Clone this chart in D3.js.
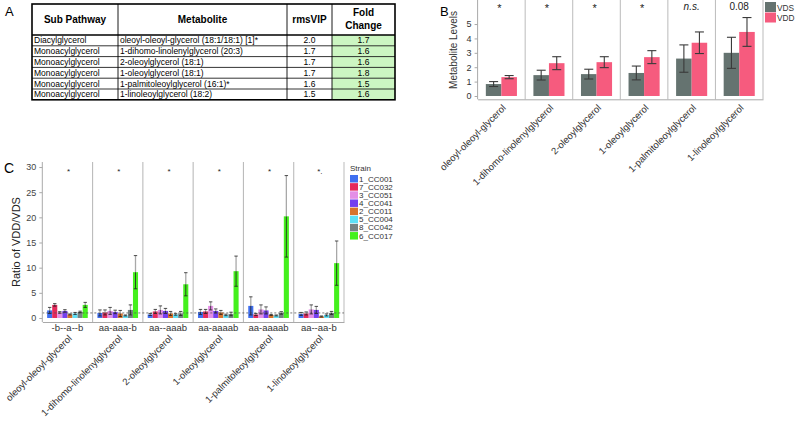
<!DOCTYPE html>
<html><head><meta charset="utf-8">
<script src="https://cdn.jsdelivr.net/npm/d3@7"></script>
<style>body{margin:0;background:#fff}svg{display:block;font-family:"Liberation Sans",Arial,sans-serif}</style>
</head><body><svg id="c" width="796" height="431"></svg>
<script>
// ---- Panel A table ----
const tableHeaders = ["Sub Pathway", "Metabolite", "rmsVIP", "Fold Change"];
const subPathways = ["Diacylglycerol", "Monoacylglycerol", "Monoacylglycerol", "Monoacylglycerol", "Monoacylglycerol", "Monoacylglycerol"];
const metaboliteNames = ["oleoyl-oleoyl-glycerol (18:1/18:1)  [1]*", "1-dihomo-linolenylglycerol (20:3)", "2-oleoylglycerol (18:1)", "1-oleoylglycerol (18:1)", "1-palmitoleoylglycerol (16:1)*", "1-linoleoylglycerol (18:2)"];
const rmsVIP = ["2.0", "1.7", "1.7", "1.7", "1.6", "1.5"];
const foldChange = ["1.7", "1.6", "1.6", "1.8", "1.5", "1.6"];

// ---- Panel B ----
const categories = ["oleoyl-oleoyl-glycerol", "1-dihomo-linolenylglycerol", "2-oleoylglycerol", "1-oleoylglycerol", "1-palmitoleoylglycerol", "1-linoleoylglycerol"];
const groups = ["VDS", "VDD"];
const vdsMean = [0.83, 1.45, 1.52, 1.6, 2.6, 3.0];
const vdsErr  = [0.17, 0.34, 0.34, 0.48, 0.95, 1.08];
const vddMean = [1.31, 2.28, 2.35, 2.7, 3.7, 4.45];
const vddErr  = [0.11, 0.45, 0.38, 0.45, 0.75, 1.0];
const bSignif = ["*", "*", "*", "*", "n.s.", "0.08"];
const bTicks = [0, 1, 2, 3, 4, 5];

// ---- Panel C ----
const strains = ["1_CC001", "7_CC032", "3_CC051", "4_CC041", "2_CC011", "5_CC004", "8_CC042", "6_CC017"];
const strainColors = ["#3f6ff0", "#e52a5c", "#e48ee6", "#7440f0", "#d8732c", "#5ee0f6", "#768282", "#44f01c"];
const ratioOleoylOleoyl   = [1.5, 2.6, 1.1, 1.4, 0.7, 0.9, 1.2, 2.6];
const errOleoylOleoyl     = [0.6, 0.25, 0.15, 0.25, 0.1, 0.2, 0.15, 0.5];
const ratioDihomo         = [1.0, 1.1, 1.4, 1.2, 0.9, 0.5, 1.6, 9.1];
const errDihomo           = [0.6, 0.5, 0.7, 0.35, 0.6, 0.1, 1.0, 3.3];
const ratio2Oleoyl        = [0.7, 1.3, 1.6, 1.4, 0.9, 0.7, 0.9, 6.7];
const err2Oleoyl          = [0.2, 0.4, 0.8, 0.5, 0.4, 0.15, 0.4, 2.3];
const ratio1Oleoyl        = [1.2, 1.3, 2.4, 1.4, 1.1, 0.6, 0.8, 9.3];
const err1Oleoyl          = [0.5, 0.4, 0.8, 0.4, 0.4, 0.15, 0.35, 3.0];
const ratioPalmitoleoyl   = [2.4, 0.7, 1.7, 1.5, 0.6, 0.5, 1.0, 20.2];
const errPalmitoleoyl     = [1.8, 0.2, 0.9, 0.7, 0.1, 0.1, 0.25, 8.1];
const ratioLinoleoyl      = [0.8, 0.9, 1.7, 1.6, 0.3, 0.6, 1.0, 10.9];
const errLinoleoyl        = [0.3, 0.3, 0.9, 0.7, 0.1, 0.2, 0.3, 4.4];
const cLetters = ["-b--a--b", "aa-aaa-b", "aa--aaab", "aa-aaaab", "aa-aaaab", "aa--aa-b"];
const cSignif = ["*", "*", "*", "*", "*", "*."];
const cTicks = [0, 5, 10, 15, 20, 25, 30];

const ratioMeans = [ratioOleoylOleoyl, ratioDihomo, ratio2Oleoyl, ratio1Oleoyl, ratioPalmitoleoyl, ratioLinoleoyl];
const ratioErrs = [errOleoylOleoyl, errDihomo, err2Oleoyl, err1Oleoyl, errPalmitoleoyl, errLinoleoyl];

const svg = d3.select("#c");
const axisGray = "#a9a9a9", textGray = "#333";

// ================= Panel A =================
svg.append("text").attr("x", 5).attr("y", 16).attr("font-size", 13).text("A");
const colEdges = [32, 118, 287, 332, 395];
const headTop = 4, headBot = 35, rowH = 10.8;
const rowY = d3.scaleBand().domain(d3.range(subPathways.length)).range([headBot, headBot + rowH * subPathways.length]);
const gA = svg.append("g");
gA.selectAll("rect.fc").data(foldChange).join("rect")
  .attr("x", colEdges[3]).attr("y", (d, i) => rowY(i)).attr("width", colEdges[4] - colEdges[3]).attr("height", rowY.bandwidth())
  .attr("fill", "#ccf6c2");
tableHeaders.forEach((h, j) => {
  const cx = (colEdges[j] + colEdges[j + 1]) / 2;
  const t = gA.append("text").attr("x", cx).attr("text-anchor", "middle").attr("font-weight", "bold").attr("font-size", 10);
  if (h === "Fold Change") {
    t.append("tspan").attr("x", cx).attr("y", 16).text("Fold");
    t.append("tspan").attr("x", cx).attr("y", 29).text("Change");
  } else t.attr("y", 23).text(h);
});
const rows = d3.range(subPathways.length);
gA.selectAll("text.sp").data(rows).join("text").attr("x", colEdges[0] + 2).attr("y", i => rowY(i) + rowH / 2 + 3)
  .attr("font-size", 8.5).text(i => subPathways[i]);
gA.selectAll("text.mb").data(rows).join("text").attr("x", colEdges[1] + 2).attr("y", i => rowY(i) + rowH / 2 + 3)
  .attr("font-size", 8.5).text(i => metaboliteNames[i]);
gA.selectAll("text.rv").data(rows).join("text").attr("x", (colEdges[2] + colEdges[3]) / 2).attr("text-anchor", "middle").attr("y", i => rowY(i) + rowH / 2 + 3)
  .attr("font-size", 8.5).text(i => rmsVIP[i]);
gA.selectAll("text.fc").data(rows).join("text").attr("x", (colEdges[3] + colEdges[4]) / 2).attr("text-anchor", "middle").attr("y", i => rowY(i) + rowH / 2 + 3)
  .attr("font-size", 8.5).text(i => foldChange[i]);
const tableBot = rowY.range()[1];
rows.forEach(i => { if (i > 0) gA.append("line").attr("x1", colEdges[0]).attr("x2", colEdges[4]).attr("y1", rowY(i)).attr("y2", rowY(i)).attr("stroke", "#000").attr("stroke-width", 0.8); });
gA.append("line").attr("x1", colEdges[0]).attr("x2", colEdges[4]).attr("y1", headBot).attr("y2", headBot).attr("stroke", "#000").attr("stroke-width", 1.6);
colEdges.slice(1, 4).forEach(x => gA.append("line").attr("x1", x).attr("x2", x).attr("y1", headTop).attr("y2", tableBot).attr("stroke", "#000").attr("stroke-width", 0.9));
gA.append("rect").attr("x", colEdges[0]).attr("y", headTop).attr("width", colEdges[4] - colEdges[0]).attr("height", tableBot - headTop)
  .attr("fill", "none").attr("stroke", "#000").attr("stroke-width", 1.6);

// ================= Panel B =================
const bX = d3.scaleBand().domain(categories).range([477.6, 763]).padding(0);
const bXi = d3.scaleBand().domain(groups).range([0, bX.bandwidth()]).paddingInner(0).paddingOuter(0.53);
const bY = d3.scaleLinear().domain([-0.23, 6.67]).range([99.3, 0]);
const bColors = { VDS: "#657370", VDD: "#f65b7e" };
const gB = svg.append("g");
svg.append("text").attr("x", 440).attr("y", 16).attr("font-size", 13).text("B");
categories.forEach((c, i) => {
  if (i > 0) gB.append("line").attr("x1", bX(c)).attr("x2", bX(c)).attr("y1", 0).attr("y2", bY.range()[0]).attr("stroke", "#bbb").attr("stroke-width", 1);
});
gB.append("line").attr("x1", bX.range()[1]).attr("x2", bX.range()[1]).attr("y1", 0).attr("y2", bY.range()[0]).attr("stroke", "#bbb");
const bData = [];
categories.forEach((c, i) => {
  bData.push({ cat: c, g: "VDS", m: vdsMean[i], e: vdsErr[i] });
  bData.push({ cat: c, g: "VDD", m: vddMean[i], e: vddErr[i] });
});
gB.selectAll("rect.bar").data(bData).join("rect")
  .attr("x", d => bX(d.cat) + bXi(d.g)).attr("width", bXi.bandwidth())
  .attr("y", d => bY(d.m)).attr("height", d => bY(0) - bY(d.m)).attr("fill", d => bColors[d.g]);
const bEb = gB.selectAll("g.eb").data(bData).join("g");
bEb.append("line").attr("x1", d => bX(d.cat) + bXi(d.g) + bXi.bandwidth() / 2).attr("x2", d => bX(d.cat) + bXi(d.g) + bXi.bandwidth() / 2)
  .attr("y1", d => bY(d.m + d.e)).attr("y2", d => bY(d.m - d.e)).attr("stroke", "#3a3a3a").attr("stroke-width", 1.1);
[1, -1].forEach(s => bEb.append("line")
  .attr("x1", d => bX(d.cat) + bXi(d.g) + bXi.bandwidth() / 2 - 4.5).attr("x2", d => bX(d.cat) + bXi(d.g) + bXi.bandwidth() / 2 + 4.5)
  .attr("y1", d => bY(d.m + s * d.e)).attr("y2", d => bY(d.m + s * d.e)).attr("stroke", "#3a3a3a").attr("stroke-width", 1.1));
gB.selectAll("text.sig").data(categories).join("text")
  .attr("x", c => bX(c) + bX.bandwidth() / 2 + (bSignif[categories.indexOf(c)] === "*" ? -2 : 0))
  .attr("y", (c, i) => bSignif[i] === "*" ? 12 : 10).attr("text-anchor", "middle")
  .attr("font-size", (c, i) => bSignif[i] === "*" ? 11 : 10)
  .attr("font-style", (c, i) => bSignif[i] === "n.s." ? "italic" : "normal")
  .attr("fill", "#222").text((c, i) => bSignif[i]);
const bAxisL = gB.append("g").attr("transform", `translate(${bX.range()[0]},0)`)
  .call(d3.axisLeft(bY).tickValues(bTicks).tickSize(3).tickFormat(d3.format("d")));
bAxisL.select(".domain").attr("stroke", axisGray).attr("d", `M0,0V${bY.range()[0]}`);
bAxisL.selectAll(".tick line").attr("stroke", axisGray);
bAxisL.selectAll(".tick text").attr("font-size", 9).attr("fill", textGray).attr("font-family", "Liberation Sans, Arial");
const bAxisB = gB.append("g").attr("transform", `translate(0,${bY.range()[0]})`).call(d3.axisBottom(bX).tickSize(0).tickSizeOuter(0));
bAxisB.select(".domain").attr("stroke", axisGray);
bAxisB.selectAll(".tick text").attr("font-size", 9.5).attr("fill", textGray).attr("font-family", "Liberation Sans, Arial")
  .attr("text-anchor", "end").attr("dy", 0).attr("transform", "translate(3,7) rotate(-45)");
svg.append("text").attr("transform", `translate(457,50) rotate(-90)`).attr("text-anchor", "middle").attr("font-size", 10).attr("fill", textGray).text("Metabolite Levels");
groups.forEach((g, i) => {
  svg.append("rect").attr("x", 765).attr("y", 2 + i * 10.5).attr("width", 11).attr("height", 10).attr("fill", bColors[g]);
  svg.append("text").attr("x", 777).attr("y", 10.5 + i * 10.5).attr("font-size", 8.3).attr("fill", textGray).text(g);
});

// ================= Panel C =================
const cX = d3.scaleBand().domain(categories).range([42.3, 344]).padding(0);
const cXi = d3.scaleBand().domain(strains).range([0, cX.bandwidth()]).paddingInner(0).paddingOuter(0.95);
const cY = d3.scaleLinear().domain([-0.8, 31]).range([322, 162]);
const gC = svg.append("g");
svg.append("text").attr("x", 4).attr("y", 173).attr("font-size", 14).text("C");
categories.forEach((c, i) => {
  if (i > 0) gC.append("line").attr("x1", cX(c)).attr("x2", cX(c)).attr("y1", cY.range()[1]).attr("y2", cY.range()[0]).attr("stroke", "#bbb").attr("stroke-width", 1.1);
});
gC.append("line").attr("x1", cX.range()[1]).attr("x2", cX.range()[1]).attr("y1", cY.range()[1]).attr("y2", cY.range()[0]).attr("stroke", "#bbb");
const cData = [];
categories.forEach((c, i) => strains.forEach((s, j) => cData.push({ cat: c, s, j, m: ratioMeans[i][j], e: ratioErrs[i][j] })));
const cx0 = d => cX(d.cat) + cXi(d.s);
const cxm = d => cx0(d) + cXi.bandwidth() / 2;
gC.selectAll("rect.bar").data(cData).join("rect")
  .attr("x", cx0).attr("width", cXi.bandwidth()).attr("y", d => cY(d.m)).attr("height", d => cY(0) - cY(d.m))
  .attr("fill", d => strainColors[d.j]);
gC.append("line").attr("x1", cX.range()[0]).attr("x2", cX.range()[1]).attr("y1", cY(1)).attr("y2", cY(1))
  .attr("stroke", "#555").attr("stroke-width", 0.8).attr("stroke-dasharray", "2,2");
const cEb = gC.selectAll("g.eb").data(cData).join("g");
cEb.append("line").attr("x1", cxm).attr("x2", cxm).attr("y1", d => cY(d.m + d.e)).attr("y2", d => cY(d.m))
  .attr("stroke", "#a8a8a8").attr("stroke-width", 1.3);
cEb.append("line").attr("x1", cxm).attr("x2", cxm).attr("y1", d => cY(d.m)).attr("y2", d => cY(Math.max(d.m - d.e, 0)))
  .attr("stroke", "#222").attr("stroke-width", 0.8);
[1, -1].forEach(s => cEb.append("line").attr("x1", d => cxm(d) - 1.7).attr("x2", d => cxm(d) + 1.7)
  .attr("y1", d => cY(d.m + s * d.e)).attr("y2", d => cY(d.m + s * d.e)).attr("stroke", "#222").attr("stroke-width", 0.8));
gC.selectAll("text.sig").data(categories).join("text")
  .attr("x", c => cX(c) + cX.bandwidth() / 2 + 1).attr("y", 174).attr("text-anchor", "middle").attr("font-size", 8).attr("fill", "#222")
  .text((c, i) => cSignif[i]);
const cAxisL = gC.append("g").attr("transform", `translate(${cX.range()[0]},0)`)
  .call(d3.axisLeft(cY).tickValues(cTicks).tickSize(3));
cAxisL.select(".domain").attr("stroke", axisGray).attr("d", `M0,${cY.range()[1]}V${cY.range()[0]}`);
cAxisL.selectAll(".tick line").attr("stroke", axisGray);
cAxisL.selectAll(".tick text").attr("font-size", 9).attr("fill", "#444").attr("font-family", "Liberation Sans, Arial");
const cAxisB = gC.append("g").attr("transform", `translate(0,${cY.range()[0]})`).call(d3.axisBottom(cX).tickSize(0).tickSizeOuter(0));
cAxisB.select(".domain").attr("stroke", axisGray);
cAxisB.selectAll(".tick text").remove();
gC.selectAll("text.let").data(categories).join("text")
  .attr("x", c => cX(c) + cX.bandwidth() / 2).attr("y", 331).attr("text-anchor", "middle").attr("font-size", 9.5).attr("fill", textGray)
  .text((c, i) => cLetters[i]);
gC.selectAll("text.cat").data(categories).join("text")
  .attr("text-anchor", "end").attr("font-size", 9.5).attr("fill", textGray)
  .attr("transform", c => `translate(${cX(c) + cX.bandwidth() / 2 + 5},339) rotate(-45)`).text(c => c);
svg.append("text").attr("transform", `translate(20,242) rotate(-90)`).attr("text-anchor", "middle").attr("font-size", 11).attr("fill", "#222").text("Ratio of VDD/VDS");
svg.append("text").attr("x", 350).attr("y", 171).attr("font-size", 8).attr("fill", textGray).text("Strain");
strains.forEach((s, i) => {
  svg.append("rect").attr("x", 350).attr("y", 175 + i * 8.15).attr("width", 8).attr("height", 7.5).attr("fill", strainColors[i]);
  svg.append("text").attr("x", 359).attr("y", 181.5 + i * 8.15).attr("font-size", 8).attr("fill", textGray).text(s);
});
</script></body></html>
